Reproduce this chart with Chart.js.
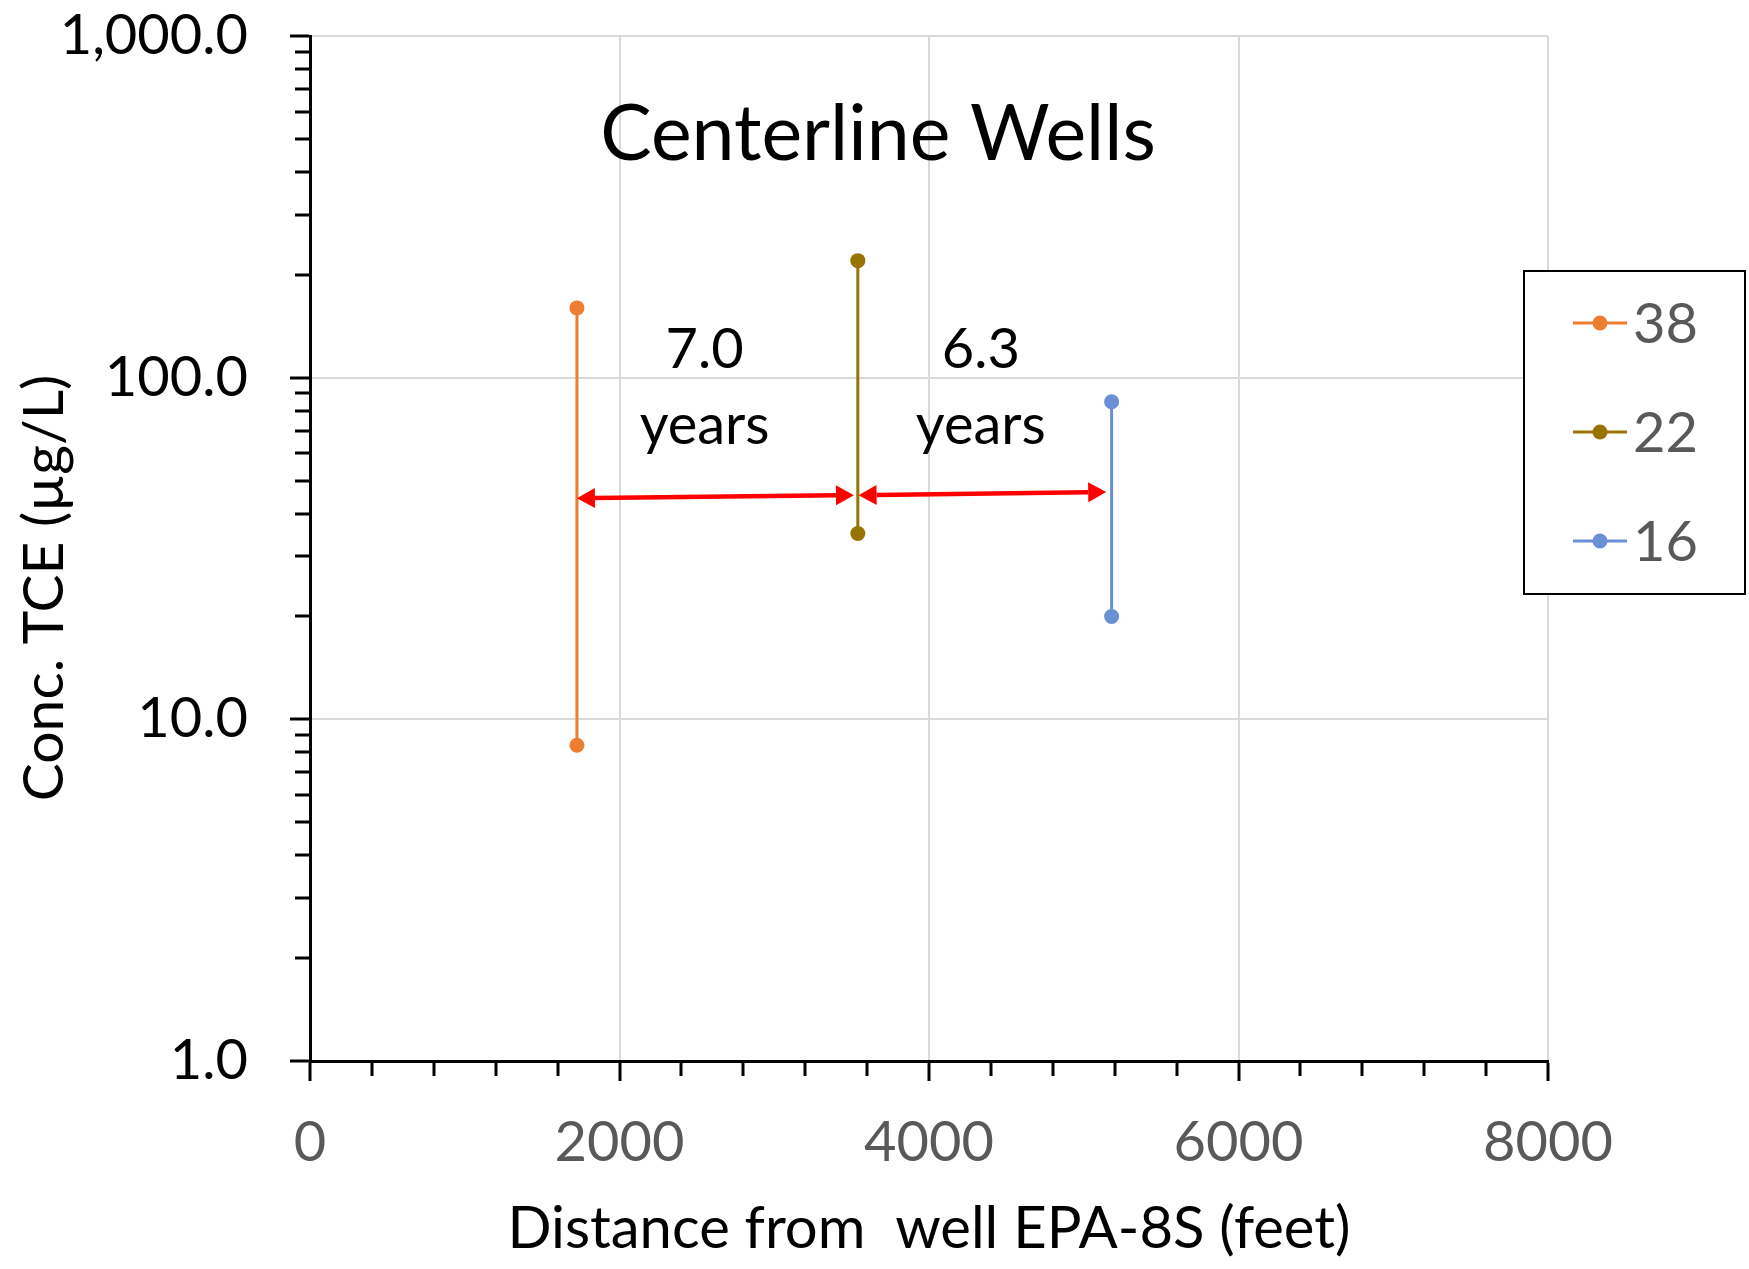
<!DOCTYPE html>
<html>
<head>
<meta charset="utf-8">
<script src="https://cdn.jsdelivr.net/npm/chart.js@4.4.0/dist/chart.umd.min.js"></script>
<style>
  html, body { margin: 0; padding: 0; background: #fff; }
  #wrap { width: 1749px; height: 1269px; }
</style>
</head>
<body>
<div id="wrap"><canvas id="chart1"></canvas></div>
<script>
// wells, distance from EPA-8S (feet) and the TCE range seen in each (ug/L)
const wellNames = ['38', '22', '16'];
const wellDistance = [1725, 3540, 5180];
const concHigh = [160, 220, 85];
const concLow = [8.4, 35, 20];

// red travel-time arrows between wells
const arrowStartX = [1725, 3545];
const arrowEndX = [3515, 5145];
const arrowStartY = [44.4, 45.3];
const arrowEndY = [45.3, 46.3];

const travelYears = ['7.0', '6.3'];
const travelLabelX = [2550, 4335];
const travelLabelY = 107;

const xTicks = [0, 2000, 4000, 6000, 8000];
const yTicks = [1, 10, 100, 1000];

const wellColors = ['#ED7D31', '#997300', '#6B8FD4'];

Chart.defaults.font.family = 'Lato';

const decor = {
  id: 'decor',
  afterDatasetsDraw(chart) {
    const ctx = chart.ctx;
    const x = chart.scales.x, y = chart.scales.y;
    const area = chart.chartArea;

    // minor ticks
    ctx.save();
    ctx.strokeStyle = '#000';
    ctx.lineWidth = 3;
    ctx.beginPath();
    for (let v = 400; v < 8000; v += 400) {
      if (v % 2000 === 0) continue;
      const px = Math.round(x.getPixelForValue(v));
      ctx.moveTo(px, area.bottom);
      ctx.lineTo(px, area.bottom + 15);
    }
    [1, 10, 100].forEach(d => {
      for (let m = 2; m <= 9; m++) {
        const py = Math.round(y.getPixelForValue(d * m));
        ctx.moveTo(area.left - 15, py);
        ctx.lineTo(area.left, py);
      }
    });
    ctx.stroke();

    // arrows
    ctx.strokeStyle = '#FF0000';
    ctx.fillStyle = '#FF0000';
    ctx.lineWidth = 4.5;
    const head = 18, half = 10;
    for (let i = 0; i < arrowStartX.length; i++) {
      const x1 = x.getPixelForValue(arrowStartX[i]), y1 = y.getPixelForValue(arrowStartY[i]);
      const x2 = x.getPixelForValue(arrowEndX[i]), y2 = y.getPixelForValue(arrowEndY[i]);
      const a = Math.atan2(y2 - y1, x2 - x1);
      const c = Math.cos(a), s = Math.sin(a);
      ctx.beginPath();
      ctx.moveTo(x1 + head * c, y1 + head * s);
      ctx.lineTo(x2 - head * c, y2 - head * s);
      ctx.stroke();
      [[x1, y1, -1], [x2, y2, 1]].forEach(([hx, hy, dir]) => {
        const bx = hx - dir * head * c, by = hy - dir * head * s;
        ctx.beginPath();
        ctx.moveTo(hx, hy);
        ctx.lineTo(bx - half * s, by + half * c);
        ctx.lineTo(bx + half * s, by - half * c);
        ctx.closePath();
        ctx.fill();
      });
    }

    // travel time labels
    ctx.fillStyle = '#000';
    ctx.font = '56px Lato';
    ctx.textAlign = 'center';
    ctx.textBaseline = 'alphabetic';
    travelYears.forEach((t, i) => {
      const px = x.getPixelForValue(travelLabelX[i]);
      const py = y.getPixelForValue(travelLabelY);
      ctx.fillText(t, px, py);
      ctx.fillText('years', px, py + 76);
    });

    // chart title
    ctx.font = '77px Lato';
    ctx.fillText('Centerline Wells', area.left + 568, area.top + 124);

    // y title
    ctx.translate(45, 588);
    ctx.rotate(-Math.PI / 2);
    ctx.textBaseline = 'middle';
    ctx.font = '57px Lato';
    ctx.fillText('Conc. TCE (\u00b5g/L)', 0, 0);
    ctx.restore();
  },
  afterDraw(chart) {
    const ctx = chart.ctx;
    ctx.save();
    ctx.fillStyle = '#fff';
    ctx.fillRect(1524, 271, 221, 323);
    ctx.strokeStyle = '#000';
    ctx.lineWidth = 2;
    ctx.strokeRect(1524, 271, 221, 323);
    ctx.font = '56px Lato';
    ctx.textBaseline = 'middle';
    ctx.textAlign = 'left';
    chart.data.datasets.forEach((ds, i) => {
      const cy = 323 + i * 109;
      ctx.strokeStyle = ds.borderColor;
      ctx.lineWidth = 3;
      ctx.beginPath();
      ctx.moveTo(1573, cy);
      ctx.lineTo(1627, cy);
      ctx.stroke();
      ctx.fillStyle = ds.borderColor;
      ctx.beginPath();
      ctx.arc(1600, cy, 7.5, 0, Math.PI * 2);
      ctx.fill();
      ctx.fillStyle = '#595959';
      ctx.fillText(ds.label, 1633, cy + 2);
    });
    ctx.restore();
  }
};

new Chart(document.getElementById('chart1'), {
  type: 'scatter',
  data: {
    datasets: wellNames.map((name, i) => ({
      label: name,
      data: [{x: wellDistance[i], y: concHigh[i]}, {x: wellDistance[i], y: concLow[i]}],
      showLine: true,
      borderColor: wellColors[i],
      backgroundColor: wellColors[i],
      borderWidth: 3,
      pointRadius: 7.5,
      pointBorderWidth: 0
    }))
  },
  options: {
    responsive: true,
    maintainAspectRatio: false,
    animation: false,
    layout: { padding: { top: 0, right: 201, left: 0, bottom: 0 } },
    plugins: {
      legend: { display: false },
      tooltip: { enabled: false }
    },
    scales: {
      x: {
        type: 'linear',
        min: 0,
        max: 8000,
        afterBuildTicks: s => { s.ticks = xTicks.map(v => ({value: v})); },
        afterFit: s => { s.height = 208; },
        ticks: {
          callback: v => String(v),
          color: '#595959',
          font: { size: 56 },
          padding: 28,
          maxRotation: 0,
          autoSkip: false
        },
        grid: { color: '#d9d9d9', lineWidth: 2, tickLength: 20, tickColor: '#000', tickWidth: 3 },
        border: { color: '#000', width: 3 },
        title: {
          display: true,
          text: 'Distance from  well EPA-8S (feet)',
          color: '#000',
          font: { size: 58 },
          padding: { top: 0, bottom: 5 }
        }
      },
      y: {
        type: 'logarithmic',
        min: 1,
        max: 1000,
        afterBuildTicks: s => { s.ticks = yTicks.map(v => ({value: v})); },
        afterFit: s => { s.width = 310; s.paddingTop = 36; },
        ticks: {
          callback: v => Number(v).toLocaleString('en-US', {minimumFractionDigits: 1, maximumFractionDigits: 1}),
          color: '#000',
          font: { size: 56 },
          padding: 42
        },
        grid: { color: '#d9d9d9', lineWidth: 2, tickLength: 20, tickColor: '#000', tickWidth: 3 },
        border: { color: '#000', width: 3 }
      }
    }
  },
  plugins: [decor]
});
</script>
</body>
</html>
